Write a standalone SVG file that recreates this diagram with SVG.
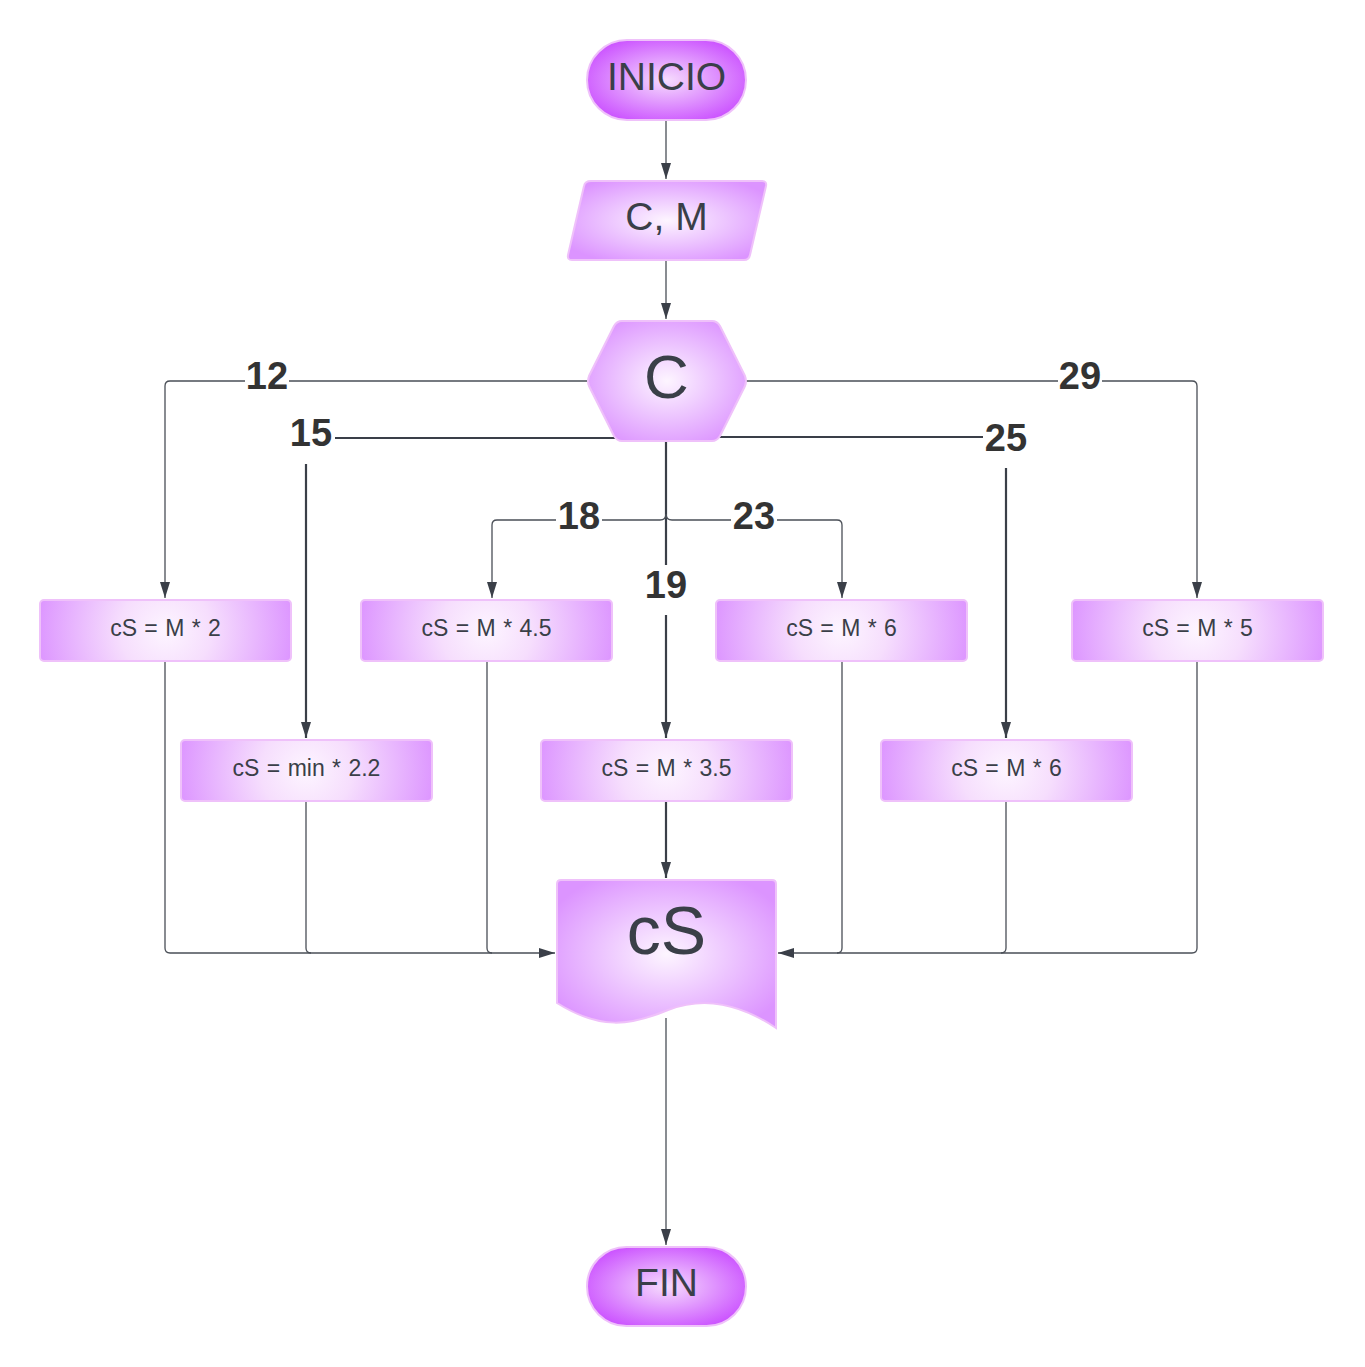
<svg xmlns="http://www.w3.org/2000/svg" width="1365" height="1367" viewBox="0 0 1365 1367">
<defs>
<radialGradient id="gTerm" cx="50%" cy="50%" r="60%">
<stop offset="0" stop-color="#f6dcfd"/>
<stop offset="1" stop-color="#c94cff"/>
</radialGradient>
<radialGradient id="gProc" cx="50%" cy="50%" r="60%">
<stop offset="0" stop-color="#fdf5ff"/>
<stop offset="1" stop-color="#dc94ff"/>
</radialGradient>
<radialGradient id="gBox" cx="0.5" cy="0.5" r="0.52" gradientTransform="translate(0.5,0.5) scale(1,4.1) translate(-0.5,-0.5)">
<stop offset="0" stop-color="#fdf5ff"/>
<stop offset="0.35" stop-color="#f6defd"/>
<stop offset="1" stop-color="#dc94ff"/>
</radialGradient>
<marker id="arr" viewBox="0 0 16 10" refX="16" refY="5" markerWidth="16" markerHeight="10" markerUnits="userSpaceOnUse" orient="auto">
<path d="M0,0 L16,5 L0,10 Z" fill="#3a3f48"/>
</marker>
</defs>
<style>
.shape{stroke:#efc1fa;stroke-width:2}
.term{fill:url(#gTerm)}
.proc{fill:url(#gProc)}
.boxs{fill:url(#gBox)}
.t{font-family:"Liberation Sans",Arial,sans-serif;fill:#3a3f48;text-anchor:middle;dominant-baseline:central}
.big{font-size:39px}
.box{font-size:23px;word-spacing:1px}
.lbl{font-family:"Liberation Sans",Arial,sans-serif;font-weight:bold;font-size:38px;fill:#333;text-anchor:middle;dominant-baseline:central}
.c{fill:none;stroke:#4a4f57;stroke-width:1.3}
.c2{fill:none;stroke:#3a3f48;stroke-width:2.2}
.lblbg{fill:#fff}
</style>

<g id="connectors">
<path class="c" d="M666,121 V179" marker-end="url(#arr)"/>
<path class="c" d="M666,261 V319" marker-end="url(#arr)"/>
<!-- 12 -->
<path class="c" d="M587,381 H170 Q165,381 165,386 V598" marker-end="url(#arr)"/>
<!-- 29 -->
<path class="c" d="M746,381 H1192 Q1197,381 1197,386 V598" marker-end="url(#arr)"/>
<!-- 15 -->
<path class="c2" d="M617,438 H306 V738" marker-end="url(#arr)"/>
<!-- 25 -->
<path class="c2" d="M717,437 H1006 V738" marker-end="url(#arr)"/>
<!-- 19 -->
<path class="c2" d="M666,442 V738" marker-end="url(#arr)"/>
<!-- 18 -->
<path class="c" d="M666,514 Q666,520 660,520 H497 Q492,520 492,525 V598" marker-end="url(#arr)"/>
<!-- 23 -->
<path class="c" d="M666,514 Q666,520 672,520 H837 Q842,520 842,525 V598" marker-end="url(#arr)"/>
<!-- to cS -->
<path class="c2" d="M666,802 V878" marker-end="url(#arr)"/>
<path class="c" d="M165,662 V948 Q165,953 170,953 H555" marker-end="url(#arr)"/>
<path class="c" d="M306,802 V948 Q306,953 311,953"/>
<path class="c" d="M487,662 V948 Q487,953 492,953"/>
<path class="c" d="M1197,662 V948 Q1197,953 1192,953 H778" marker-end="url(#arr)"/>
<path class="c" d="M1006,802 V948 Q1006,953 1001,953"/>
<path class="c" d="M842,662 V948 Q842,953 837,953"/>
<path class="c" d="M666,1018 V1245" marker-end="url(#arr)"/>
<!-- labels -->
<rect class="lblbg" x="245" y="360" width="44" height="32"/>
<text class="lbl" x="267" y="376">12</text>
<rect class="lblbg" x="1058" y="360" width="44" height="32"/>
<text class="lbl" x="1080" y="376">29</text>
<rect class="lblbg" x="287" y="416" width="48" height="48"/>
<text class="lbl" x="311" y="433">15</text>
<rect class="lblbg" x="983" y="420" width="48" height="48"/>
<text class="lbl" x="1006" y="438">25</text>
<rect class="lblbg" x="556" y="500" width="46" height="32"/>
<text class="lbl" x="579" y="516">18</text>
<rect class="lblbg" x="731" y="500" width="46" height="32"/>
<text class="lbl" x="754" y="516">23</text>
<rect class="lblbg" x="642" y="565" width="48" height="50"/>
<text class="lbl" x="666" y="585">19</text>
</g>

<g id="inicio">
<rect class="shape term" x="587" y="40" width="159" height="80" rx="40"/>
<text class="t big" x="666.5" y="76">INICIO</text>
</g>
<g id="input">
<path class="shape proc" d="M591,181 H762 Q767,181 766,186 L750,255 Q749,260 744,260 H572 Q567,260 568,255 L584,186 Q585,181 591,181 Z"/>
<text class="t big" x="666.5" y="216">C, M</text>
</g>
<g id="decision">
<path class="shape proc" d="M622,321 H712 Q717,321 720,326 L745,376 Q747,381 745,386 L720,436 Q717,441 712,441 H622 Q617,441 614,436 L589,386 Q587,381 589,376 L614,326 Q617,321 622,321 Z"/>
<text class="t" x="666.5" y="376" style="font-size:62px">C</text>
</g>
<g id="p12">
<rect class="shape boxs" x="40" y="600" width="251" height="61" rx="4"/>
<text class="t box" x="165.5" y="628">cS = M * 2</text>
</g>
<g id="p18">
<rect class="shape boxs" x="361" y="600" width="251" height="61" rx="4"/>
<text class="t box" x="486.5" y="628">cS = M * 4.5</text>
</g>
<g id="p23">
<rect class="shape boxs" x="716" y="600" width="251" height="61" rx="4"/>
<text class="t box" x="841.5" y="628">cS = M * 6</text>
</g>
<g id="p29">
<rect class="shape boxs" x="1072" y="600" width="251" height="61" rx="4"/>
<text class="t box" x="1197.5" y="628">cS = M * 5</text>
</g>
<g id="p15">
<rect class="shape boxs" x="181" y="740" width="251" height="61" rx="4"/>
<text class="t box" x="306.5" y="768">cS = min * 2.2</text>
</g>
<g id="p19">
<rect class="shape boxs" x="541" y="740" width="251" height="61" rx="4"/>
<text class="t box" x="666.5" y="768">cS = M * 3.5</text>
</g>
<g id="p25">
<rect class="shape boxs" x="881" y="740" width="251" height="61" rx="4"/>
<text class="t box" x="1006.5" y="768">cS = M * 6</text>
</g>
<g id="output">
<path class="shape proc" d="M561,880 H772 Q776,880 776,884 V1028 C740,1004 705,996 668,1010 C630,1026 600,1030 557,1003 V884 Q557,880 561,880 Z"/>
<text class="t" x="666.5" y="930" style="font-size:68px">cS</text>
</g>
<g id="fin">
<rect class="shape term" x="587" y="1247" width="159" height="79" rx="39.5"/>
<text class="t big" x="666.5" y="1282">FIN</text>
</g>
</svg>
